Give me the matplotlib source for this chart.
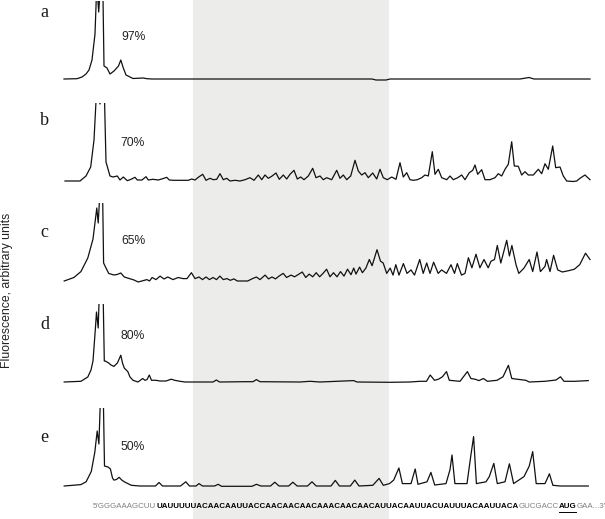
import matplotlib
matplotlib.use("Agg")
import matplotlib.pyplot as plt

# ---------------- data ----------------
labels = ["a", "b", "c", "d", "e"]
percents = ["97%", "70%", "65%", "80%", "50%"]

xa = [64, 77, 82, 86, 89, 92, 95, 96.8, 98.7, 100.5, 102.8, 104, 107, 110, 114, 118.5, 120.8, 123.3, 126,
      133, 143, 147, 152, 200, 300, 372, 376, 386, 390, 450, 520, 529, 534, 590]
ha = [0, 0.3, 2, 5, 9, 19, 45, 95, 67, 95, 95, 13, 11, 5, 8, 13, 19, 11, 4,
      0.5, 1, 0.3, 0, 0, 0, 0, -1, -1, 0, 0, 0, 1.5, 0, 0]

xb = [65, 80, 86, 90.7, 94, 96.8, 100, 103, 104.2, 106, 110, 113, 117.3, 120, 123.3, 127.3, 131, 135, 137.3,
      142, 146, 148.3, 153, 158.3, 162.7, 166.7, 169.3, 173.3, 180, 188.3, 191.7, 195, 198.3,
      202.7, 206, 210, 213.3, 216.7, 220, 223.3, 226.7, 230, 235, 240, 245, 250, 254, 258.3, 261.7,
      265, 268.3, 271.7, 276, 279.3, 283.3, 286.7, 290, 294, 297.3, 300.7, 304, 308.3, 312.7, 316,
      320, 323.3, 326.7, 331.7, 336.7, 340, 343.3, 346.7, 350.7, 355, 358.3, 361.7, 365, 368.3,
      372.7, 376.7, 380, 383.3, 387.3, 391.7, 396, 400, 403.3, 406.7, 410, 413.3, 417.3, 421.7,
      425, 428.3, 432.3, 435, 438.3, 441.7, 446.7, 450, 453.3, 457.7, 461.7, 465, 469.3, 472.7,
      475, 477.7, 481.7, 485, 490, 495, 498.3, 501.7, 505, 508.3, 511.7, 514.3, 518.3, 521.7,
      525, 528.3, 533.3, 538.3, 541.7, 545, 548.3, 552.7, 555.7, 560, 563.3, 566.7, 573, 576.7,
      580, 585, 590]
hb = [0, 0, 5, 14, 41, 95, 77, 95, 95, 19, 5, 4, 5, 1, 4, 0.3, 1.7, 3.7, 1,
      1, 4.3, 1, 1.7, 1, 2.3, 3.7, 1, 0.7, 0.7, 0.7, 2, 1, 3.7,
      6.7, 0.7, 2.7, 1.3, 1.7, 7.3, 1.3, 2.7, 0, 0.7, 0, 1.3, 3.3, 0.7, 6, 1.3,
      6, 2.7, 4.7, 8, 1.7, 6, 2, 6.7, 10.7, 2, 4, 1.3, 5, 12.7, 3.3,
      5, 1.3, 3.3, 1.3, 10.7, 2.7, 6, 1.3, 5, 20.7, 10, 6, 8.3, 3.3,
      8, 2, 11.7, 3.3, 1.3, 4, 1.7, 18.3, 4, 8.3, 1.3, 0.7, 1.3, 3.3,
      6, 5, 29.3, 6.7, 11.7, 3.3, 1.3, 5, 1.3, 3.3, 6, 1.3, 8.3, 10.7,
      16, 6.7, 11.3, 1.3, 1.3, 3.3, 7.3, 5, 11.7, 16.7, 39.3, 15, 14.7, 6,
      9.3, 6, 6, 11.7, 7.3, 17.3, 11.7, 35, 13.3, 14, 5, 0, -0.5, 0,
      2.7, 6, 1.3]

xc = [64.2, 73.9, 80.9, 87.8, 93, 96.8, 98.2, 100.3, 102.5, 103.6, 105.5, 108.7, 113.9, 117, 120.8, 124.3,
      129.5, 134, 138.2, 142, 146.9, 149.5, 152.1, 156, 160.1, 164, 167.8, 173, 178.2, 183, 187,
      191.4, 195, 199, 202.5, 206, 209.5, 213, 216.5, 219.9, 223.3, 227, 230.3, 234, 237.3, 242,
      247.7, 252.5, 256.4, 260, 265.1, 268.5, 272, 275.5, 279, 283.2, 286.6, 291, 294.6, 298,
      302.3, 305.7, 309.2, 312.7, 316.2, 319.6, 323, 326.6, 330, 333.5, 337, 340.5, 344, 347.5,
      351, 353.7, 356, 359.6, 362.4, 365.9, 369.3, 372.1, 377, 380.5, 383.2, 386.7, 390.2, 393,
      395.8, 399, 403.4, 407, 411, 414.5, 419.7, 423.2, 426.7, 430, 433.6, 438.2, 441.6, 446.5,
      451, 454.5, 457.3, 461.5, 465, 468.4, 471.9, 476, 479.9, 484, 488.2, 491, 494.5, 497.3,
      500.8, 506.7, 509.4, 511.9, 516, 518.8, 524, 529.2, 532.7, 537, 540.4, 545, 546.6, 550,
      553.6, 557.7, 562.3, 569, 574.4, 579.7, 585.5, 590]
hc = [0, 3.5, 9.4, 23, 42, 73, 58, 95, 95, 18, 14, 7.6, 6, 6.5, 8, 4,
      2.4, 1, -1, 0, 1.4, 0, 3.5, 1.4, 4.9, 2, 4, 1.4, 3.5, 2.4, 2.4,
      8.3, 2.4, 4, 1.4, 4, 1.4, 3.5, 1.4, 4.9, 1.4, 2.4, 0.7, 2.1, 0, 0,
      0, 2.4, 4, 1.4, 5.9, 2.1, 4, 2.1, 4.9, 7.6, 3.5, 5.9, 4.2, 6.3,
      9, 3.5, 6.9, 4.2, 8.3, 4.2, 7.6, 11.8, 4.2, 8.3, 4.2, 9.4, 4.9, 11.8,
      6.3, 12.9, 6.9, 13.9, 8.3, 12.9, 21.5, 15.3, 31.3, 19.8, 18, 7.6, 12.9, 5.9,
      16.3, 5.9, 17.4, 7.6, 11.1, 5.9, 21.5, 7.6, 18, 7.6, 18.8, 7.6, 11.1, 7.6,
      16.3, 7.6, 17.4, 5.9, 7.6, 23.3, 13.2, 26.8, 13.2, 21.5, 13.2, 19.8, 21.5, 35.5,
      18, 40.7, 25, 35.5, 16.3, 7.6, 12.9, 21.5, 9.4, 29, 9.4, 14.6, 21.5, 9.4,
      25.7, 11.1, 9, 10.4, 11.8, 16.3, 27.8, 21.5]

xd = [64.2, 80.9, 87.8, 91, 93, 95.5, 96.5, 98.2, 99.5, 103, 104.3, 105.2, 108.7, 111, 113.9, 117.4, 120.8,
      122.5, 124.3, 127.8, 130, 133, 138, 142.7, 145, 147, 149.3, 151.5, 156, 160, 166, 171.2,
      174.7, 180, 185, 200, 213, 216.4, 219.5, 245, 253, 256.4, 260, 300, 310, 320, 353.7, 357,
      390, 410, 420, 426.5, 430.2, 434.5, 438.5, 442.4, 446.5, 449.3, 460, 467.4, 470.9, 475,
      479, 483.4, 487.4, 497, 503, 508.4, 511.8, 517, 525.8, 529.2, 545, 556, 560.5, 564, 575, 588.3]
hd = [0, 0.7, 5, 12, 21, 55, 70, 54, 95, 95, 21, 21, 19, 17, 15.6, 19, 26.8,
      19, 13.9, 10.4, 5, 1.7, 0, 3.5, 1.7, 2.4, 7, 1.7, 1.7, 1, 1, 2.8,
      1.7, 0.7, 0, 0, 0, 2, 0, 0.3, 0.3, 2.4, 0.3, 0, 0.7, 0, 1.4, 0,
      -0.3, 0, 0.7, 0.7, 7, 1.7, 2.8, 5.2, 10.4, 1.7, 0.7, 10.4, 3.5, 2.8,
      1.4, 3.5, 0.7, 1.7, 5.2, 16.7, 3.5, 2.8, 1.7, 0, 0.7, 2, 5.2, 0.7, 0.7, 1.4]

xe = [64.2, 80.9, 86.1, 91.3, 94.8, 97.2, 98.9, 100.7, 103.2, 104.5, 108, 110.4, 112.5, 113.9, 116.5, 119.1,
      121.7, 124.3, 131.3, 140, 155.5, 159, 162.5, 180.5, 185.8, 189.5, 196, 199, 202.5, 214.5,
      218.2, 221.5, 252, 256.4, 260.9, 270.5, 274.8, 279, 288.7, 292.9, 297.1, 307.5, 312, 316.2,
      331, 335.3, 339.4, 350.3, 354.8, 359, 372.8, 379.1, 383.3, 389.5, 393.7, 398.9, 402.4, 411,
      415.2, 418, 427, 430.9, 434.7, 446, 450, 452, 454.9, 467, 470.8, 473.6, 476.4, 486, 489.3,
      493.8, 497.3, 505, 509.4, 513.6, 524, 529.2, 532.7, 536.2, 545, 549.4, 552.9, 560, 588.3]
he = [0, 1.4, 4.2, 14.6, 33.7, 55, 42, 95, 95, 20, 19, 17, 8, 5.9, 6.5, 8.7,
      6, 4.2, 0.7, 0, 0, 3.5, 0, 0, 4.2, 0, 0, 2.4, 0, 0,
      1.7, -0.3, -0.3, 1.7, 0, 0, 3.8, 0, 0, 3.8, 0, 0, 4.2, 0,
      0, 5.6, 0, 0, 5.9, 0, 0.7, 7.6, 0.7, 2.4, 5.9, 18, 2.4, 2.4,
      17, 1.7, 4.2, 13.6, 1, 2.4, 16.3, 31, 2.4, 2.4, 30.2, 49.4, 2.4, 4.2, 9.4,
      22.6, 2.4, 4.2, 22.2, 2.4, 9.4, 19.8, 34.4, 2.4, 2.4, 12.2, 0.7, 0, 0]

traces_x = [xa, xb, xc, xd, xe]
traces_h = [ha, hb, hc, hd, he]

seq_parts = ["5'GGGAAAGCUU",
             "UAUUUUUACAACAAUUACCAACAACAACAAACAACAACAUUACAAUUACUAUUUACAAUUACA",
             "GUCGACC", "AUG", "GAA...3'"]
seq_bold = [False, True, False, True, False]
seq_color = ["#808080", "#000000", "#808080", "#000000", "#808080"]

# ---------------- layout ----------------
W, H = 605, 519
fig = plt.figure(figsize=(W / 100, H / 100), dpi=100)
fig.patch.set_facecolor("white")

bg = fig.add_axes([0, 0, 1, 1])
bg.set_xlim(0, W)
bg.set_ylim(H, 0)
bg.axis("off")
bg.axvspan(192.5, 389, color="#ECEDEA", lw=0, zorder=0)

baselines = [79, 181, 281, 382, 486]
label_y = [62, 56, 44, 53, 44]
pct_y = [42, 38, 40, 46, 39]
ytop, ybot = 78, -4

for i in range(5):
    b = baselines[i]
    ax = fig.add_axes([0, (H - (b - ybot)) / H, 1, (ytop - ybot) / H])
    ax.set_xlim(0, W)
    ax.set_ylim(ybot, ytop)
    ax.axis("off")
    ax.patch.set_alpha(0)
    ax.plot(traces_x[i], traces_h[i], color="#111111", lw=0.9, solid_joinstyle="round")
    ax.text(44.5, label_y[i], labels[i], family="Liberation Serif", fontsize=13,
            ha="center", va="baseline", color="#1a1a1a")
    ax.text(133, pct_y[i], percents[i], family="Liberation Sans", fontsize=8.7,
            ha="center", va="center", color="#222222")

bg.text(7, 290, "Fluorescence, arbitrary units", rotation=90, family="Liberation Sans",
        fontsize=8.8, ha="center", va="center", color="#222222")

# sequence, chained segment by segment
renderer = fig.canvas.get_renderer()
x0 = 93.0
seq_size = 5.7
for txt, bold, col in zip(seq_parts, seq_bold, seq_color):
    t = bg.text(x0, 507, txt, family="Liberation Sans", fontsize=seq_size,
                fontweight="bold" if bold else "normal", color=col, ha="left", va="center")
    w = t.get_window_extent(renderer).width
    if txt == "AUG":
        bg.plot([x0, x0 + w], [511.5, 511.5], color="#000000", lw=0.7)
    x0 += w

fig.savefig("out.png", dpi=100)
